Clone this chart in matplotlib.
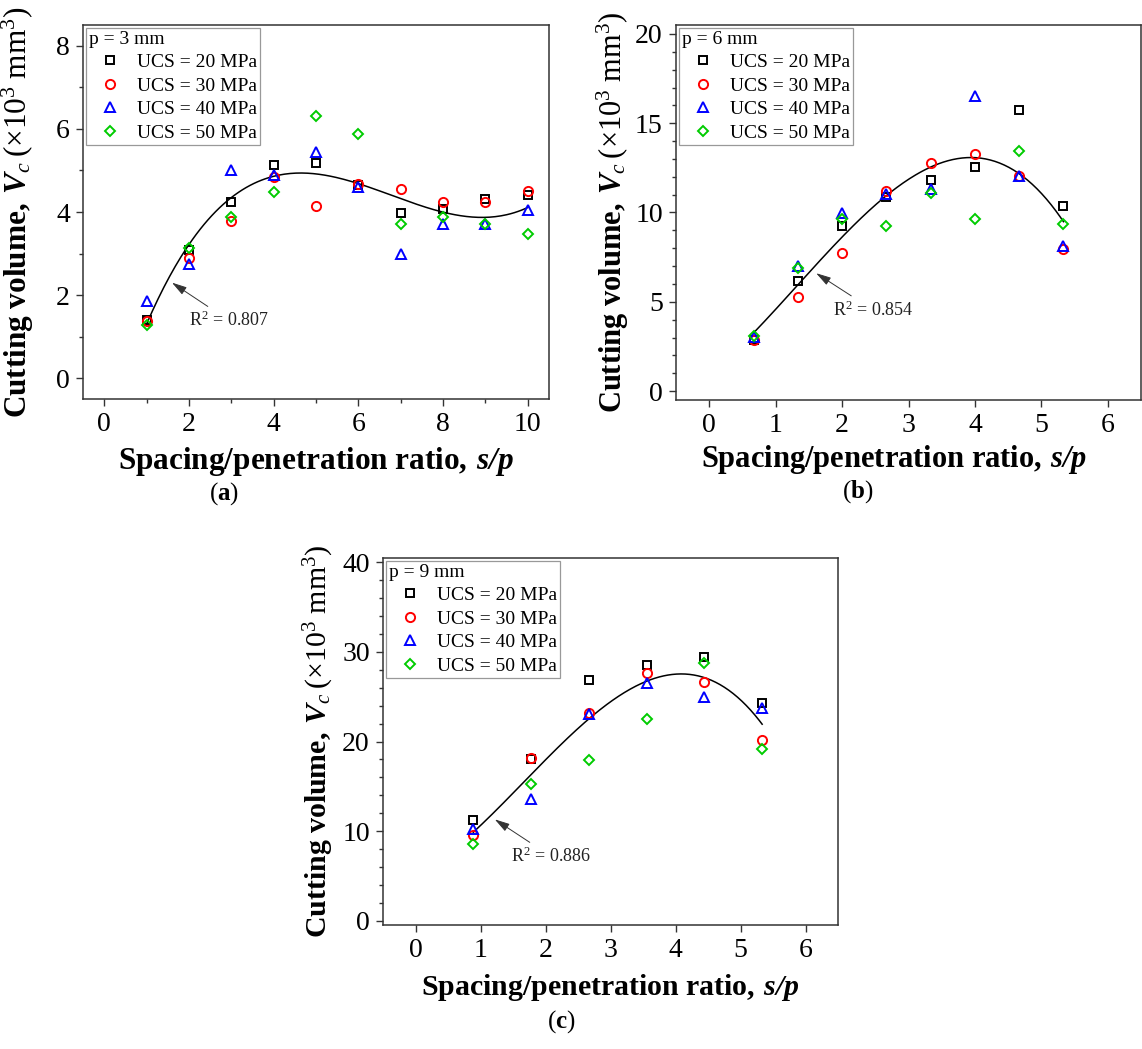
import numpy as np
import matplotlib
matplotlib.use("Agg")
import matplotlib.pyplot as plt
from matplotlib.ticker import MultipleLocator

plt.rcParams['font.family'] = ['Liberation Serif', 'DejaVu Serif']
plt.rcParams['mathtext.fontset'] = 'custom'
plt.rcParams['mathtext.rm'] = 'Liberation Serif'
plt.rcParams['mathtext.it'] = 'Liberation Serif:italic'
plt.rcParams['mathtext.bf'] = 'Liberation Serif:bold'
plt.rcParams['mathtext.bfit'] = 'Liberation Serif:bold:italic'

# data (x = s/p, y = Vc in 10^3 mm^3)
ucs_labels = ['UCS = 20 MPa', 'UCS = 30 MPa', 'UCS = 40 MPa', 'UCS = 50 MPa']

sp_a = [1, 2, 3, 4, 5, 6, 7, 8, 9, 10]
a_20 = [1.40, 3.08, 4.24, 5.12, 5.19, 4.66, 3.98, 4.07, 4.32, 4.40]
a_30 = [1.38, 2.90, 3.78, 4.84, 4.14, 4.67, 4.56, 4.24, 4.24, 4.51]
a_40 = [1.85, 2.74, 5.00, 4.90, 5.45, 4.61, 3.00, 3.70, 3.71, 4.06]
a_50 = [1.27, 3.14, 3.88, 4.48, 6.32, 5.88, 3.72, 3.87, 3.72, 3.46]

sp_b = [0.667, 1.333, 2.0, 2.667, 3.333, 4.0, 4.667, 5.333]
b_20 = [2.84, 6.14, 9.22, 10.86, 11.83, 12.54, 15.76, 10.34]
b_30 = [2.87, 5.26, 7.74, 11.23, 12.76, 13.28, 12.03, 7.97]
b_40 = [3.02, 7.03, 9.98, 11.04, 11.32, 16.55, 12.03, 8.15]
b_50 = [3.06, 6.90, 9.61, 9.27, 11.08, 9.65, 13.47, 9.33]

sp_c = [0.889, 1.778, 2.667, 3.556, 4.444, 5.333]
c_20 = [11.2, 18.1, 26.9, 28.5, 29.4, 24.3]
c_30 = [9.5, 18.2, 23.2, 27.7, 26.6, 20.2]
c_40 = [10.2, 13.6, 23.1, 26.5, 25.0, 23.7]
c_50 = [8.5, 15.2, 17.9, 22.5, 28.8, 19.2]

r2_text = ['0.807', '0.854', '0.886']
p_text = ['p = 3 mm', 'p = 6 mm', 'p = 9 mm']

colors = ['black', '#FF0000', '#0000FF', '#00CC00']
markers = [('s', 6.0), ('o', 6.6), ('^', 7.2), ('D', 5.4)]

W, H = 1142, 1049
fig = plt.figure(figsize=(W / 100, H / 100), dpi=100)


def px_axes(l, t, r, b):
    return fig.add_axes([l / W, 1 - b / H, (r - l) / W, (b - t) / H])


ylab = r'$\mathbf{Cutting\ volume,}\:\mathbfit{V}_{\mathit{c}}\:(\times10^{3}\ \mathrm{mm}^{3})$'
xlab = r'$\mathbf{Spacing/penetration\ ratio,}\:\mathbfit{s/p}$'


def panel(ax, x, ys, title, r2, xlim, ylim, xmaj, xmin, ymaj, ymin,
          arrow_tip, text_xy, lab_fs, xlab_pos, ylab_x):
    for y, c, (m, ms), lab in zip(ys, colors, markers, ucs_labels):
        ax.plot(x, y, linestyle='none', marker=m, ms=ms, mfc='none', mec=c,
                mew=1.4, label=lab, zorder=3)
    xa = np.concatenate([x] * 4)
    ya = np.concatenate(ys)
    coef = np.polyfit(xa, ya, 3)
    xf = np.linspace(min(x), max(x), 200)
    ax.plot(xf, np.polyval(coef, xf), color='black', lw=1.1, zorder=2)
    ax.annotate('R$^{2}$ = ' + r2, xy=arrow_tip, xytext=text_xy, fontsize=13,
                color='#222222', va='center', ha='left',
                arrowprops=dict(arrowstyle='-|>,head_length=0.7,head_width=0.2',
                                color='#333333', lw=0.7, shrinkA=2, shrinkB=0))
    ax.set_xlim(*xlim)
    ax.set_ylim(*ylim)
    ax.xaxis.set_major_locator(MultipleLocator(xmaj))
    if xmin:
        ax.xaxis.set_minor_locator(MultipleLocator(xmin))
    ax.yaxis.set_major_locator(MultipleLocator(ymaj))
    ax.yaxis.set_minor_locator(MultipleLocator(ymin))
    ax.tick_params(which='major', direction='out', length=5, width=1.0,
                   labelsize=20, pad=4.5, color='#333333')
    ax.tick_params(which='minor', direction='out', length=3, width=1.0,
                   color='#333333')
    for s in ax.spines.values():
        s.set_linewidth(1.1)
        s.set_color('#333333')
    ax.set_xlabel(xlab, fontsize=lab_fs)
    ax.set_ylabel(ylab, fontsize=lab_fs)
    ax.xaxis.set_label_coords(*xlab_pos)
    ax.yaxis.set_label_coords(ylab_x, 0.5)
    leg = ax.legend(title=title, loc='upper left', bbox_to_anchor=(0, 1),
                    borderaxespad=0.15, fontsize=14, title_fontsize=14,
                    alignment='left', fancybox=False, edgecolor='#999999',
                    framealpha=1, borderpad=0.15, handlelength=2.2,
                    handletextpad=0.3, labelspacing=0.3)
    leg.get_frame().set_linewidth(0.9)


ax_a = px_axes(83, 25, 549, 399)
panel(ax_a, sp_a, [a_20, a_30, a_40, a_50], p_text[0], r2_text[0],
      (-0.5, 10.5), (-0.5, 8.5), 2, 1, 2, 1, (1.6, 2.3), (2.0, 1.39),
      22.5, (0.5, -0.122), -0.1)

ax_b = px_axes(676, 25, 1141, 400)
panel(ax_b, sp_b, [b_20, b_30, b_40, b_50], p_text[1], r2_text[1],
      (-0.5, 6.5), (-0.5, 20.5), 1, None, 5, 1, (1.61, 6.6), (1.86, 4.55),
      22, (0.469, -0.115), -0.097)

ax_c = px_axes(383, 558, 838, 925)
panel(ax_c, sp_c, [c_20, c_30, c_40, c_50], p_text[2], r2_text[2],
      (-0.5, 6.5), (-0.5, 40.5), 1, None, 10, 2, (1.22, 11.3), (1.47, 7.17),
      21.5, (0.5, -0.128), -0.103)

for lab, (x, y) in zip(['a', 'b', 'c'], [(224, 494), (858, 492), (561, 1022)]):
    fig.text(x / W, 1 - y / H, '(' + r'$\mathbf{' + lab + '}$' + ')',
             fontsize=18, ha='center', va='center')

fig.savefig('out.png', dpi=100)
